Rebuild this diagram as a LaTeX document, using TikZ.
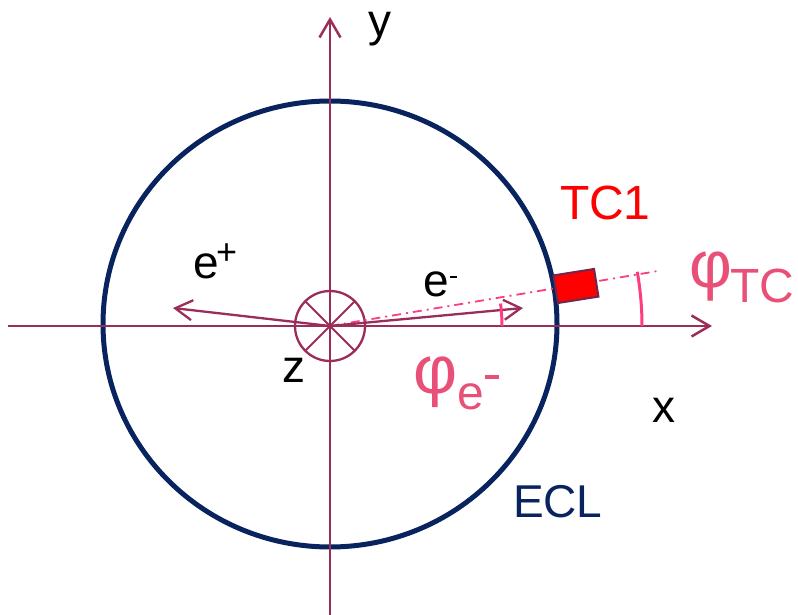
\documentclass[tikz,border=0pt]{standalone}
\usepackage{fontspec}
\setmainfont{Liberation Sans}
\usetikzlibrary{arrows.meta}
\definecolor{axiscol}{RGB}{155,45,90}
\definecolor{eclcol}{RGB}{8,35,94}
\definecolor{arccol}{RGB}{255,60,128}
\definecolor{phicol}{RGB}{232,80,120}
\definecolor{boxedge}{RGB}{110,40,80}
\newcommand{\fs}[1]{\fontsize{#1}{#1}\selectfont}
\tikzset{
  axis/.style={draw=axiscol, line width=2.5pt, -{Straight Barb[length=18pt,width=21pt,line width=2.5pt]}},
  vec/.style={draw=axiscol, line width=2.3pt, -{Straight Barb[length=17pt,width=20pt,line width=2.3pt]}},
  lab/.style={inner sep=0pt, outer sep=0pt, anchor=base west, text=black},
  anglearc/.style={draw=arccol, line width=3pt},
}
\begin{document}
\begin{tikzpicture}[x=1pt,y=1pt]
\useasboundingbox (0,0) rectangle (798,614);
\coordinate (O) at (330,288);
\coordinate (xl) at (8,288);
\coordinate (xr) at (712,288);
\coordinate (yb) at (330,-2);
\coordinate (yt) at (330,597);
\coordinate (ep) at (173,306);
\coordinate (em) at (523,306);
\coordinate (dd) at (658,343);
% ECL circle
\draw[eclcol, line width=5pt] (330,290) ellipse[x radius=227pt, y radius=223pt];
% axes
\draw[axis] (xl) -- (xr);
\draw[axis] (yb) -- (yt);
% z symbol
\draw[axiscol, line width=2.3pt] (O) circle (35pt);
\draw[axiscol, line width=2pt] (O) ++(45:35pt) -- ++(225:70pt);
\draw[axiscol, line width=2pt] (O) ++(135:35pt) -- ++(315:70pt);
% dash-dot line
\draw[arccol, line width=1.8pt, dash pattern=on 9pt off 5pt on 2pt off 5pt] (O) -- (dd);
% vectors
\draw[vec] (O) -- (ep);
\draw[vec] (O) -- (em);
% TC1 box
\node[draw=boxedge, fill=red, line width=2pt, minimum width=41pt, minimum height=28pt, inner sep=0pt, rotate=9] (box) at (576,328) {};
% angle arcs
\draw[anglearc] (O) ++(0:312pt) arc[start angle=0, end angle=10, radius=312pt];
\draw[anglearc] (O) ++(0:172pt) arc[start angle=0, end angle=7.5, radius=172pt];
% labels
\node[lab] (ylab) at (368,577) {\fs{46}y};
\node[lab] (xlab) at (652,192) {\fs{46}x};
\node[lab] (zlab) at (282,232) {\fs{46}z};
\node[lab] (eplab) at (193,335) {\fs{46}e\kern-2.5pt\raisebox{14pt}{\fs{36}+}};
\node[lab] (emlab) at (423,317) {\fs{46}e\kern1.5pt\rule[18.75pt]{7pt}{2.5pt}};
\node[lab, text=red] (tclab) at (560,394) {\fs{48}TC1};
\node[lab, text=eclcol] (ecllab) at (513,97) {\fs{46}ECL};
\node[inner sep=0pt, outer sep=0pt, text=phicol] (phitc) at (711,337.5) {\fs{66}φ};
\node[lab, text=phicol] (tcsub) at (730,311) {\fs{48}TC};
\node[inner sep=0pt, outer sep=0pt, text=phicol] (phie) at (436,231.5) {\fs{68}φ};
\node[lab, text=phicol] (esub) at (457,205) {\fs{48}e\kern1pt\rule[30.25pt]{14pt}{3.5pt}};
\end{tikzpicture}
\end{document}
